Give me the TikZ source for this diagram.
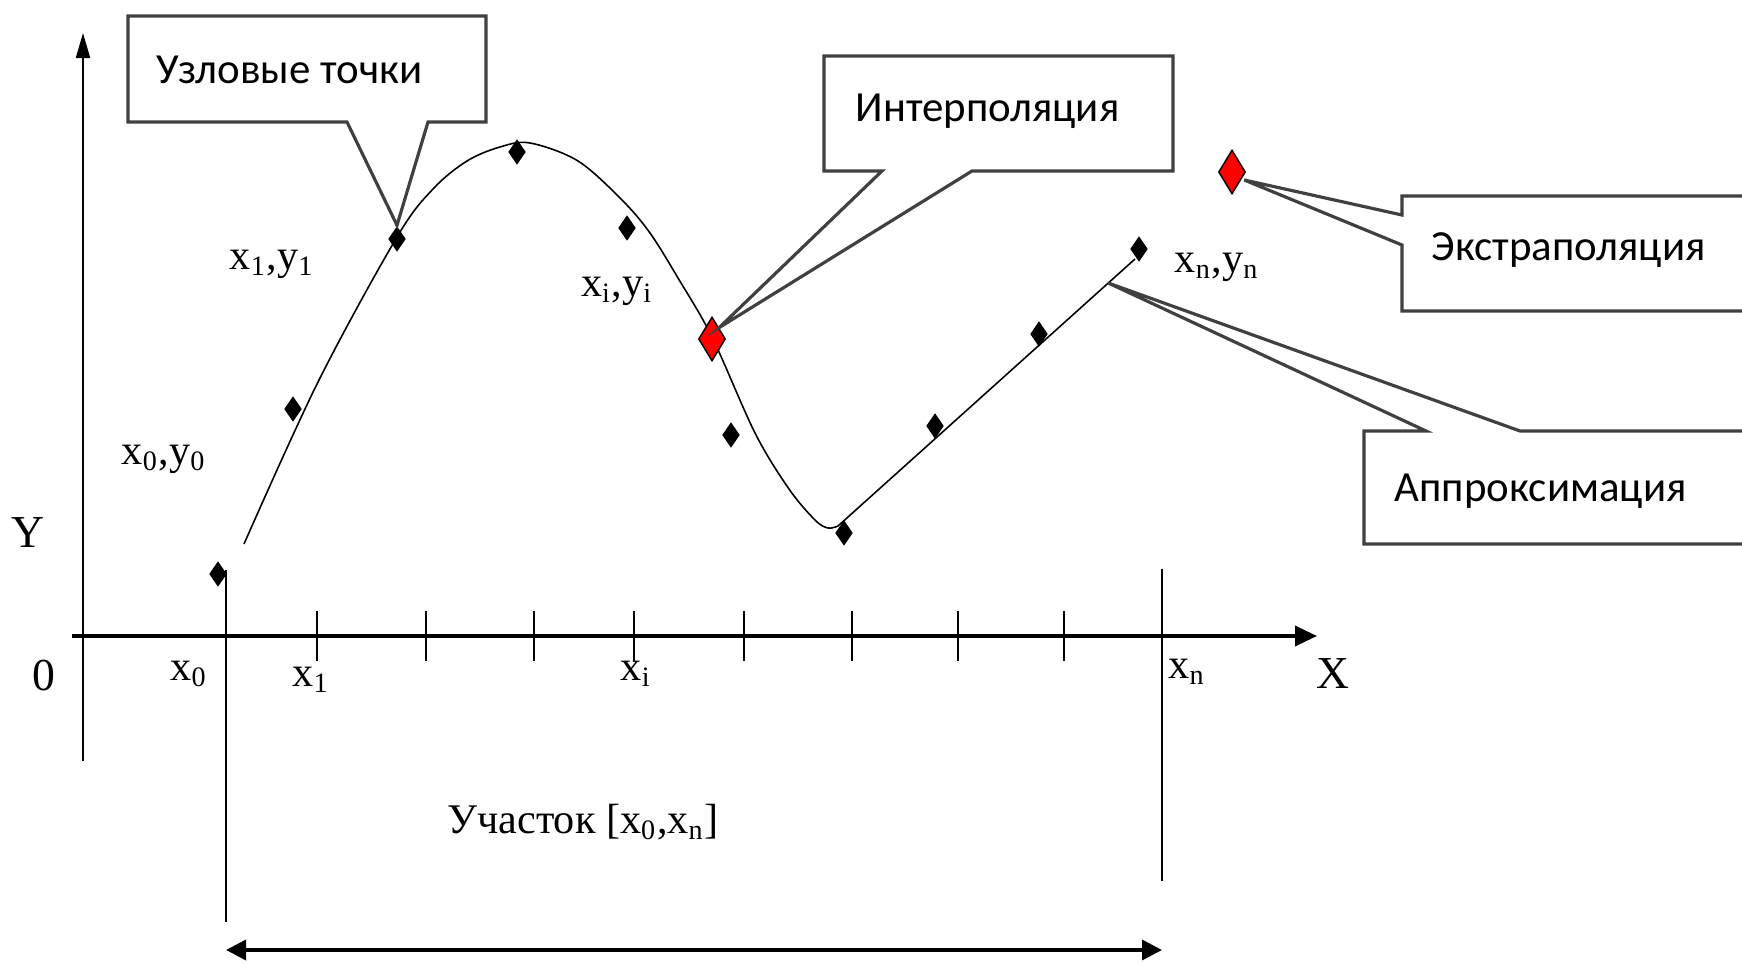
\documentclass[tikz,border=0pt]{standalone}
\usepackage{fontspec}
\setmainfont{Liberation Serif}
\newfontfamily\calloutfont{Carlito}
\usetikzlibrary{arrows.meta,shapes.geometric,calc}

\begin{document}
\begin{tikzpicture}[x=0.01cm,y=-0.01cm,
  knot/.style={diamond,fill=black,inner sep=0pt,minimum width=0.18cm,minimum height=0.26cm},
  redknot/.style={diamond,draw=black,fill=red,inner sep=0pt,line width=0.4pt,minimum width=0.27cm,minimum height=0.44cm},
  lbl/.style={font=\fontsize{12}{14}\selectfont,inner sep=0pt},
  callout/.style={draw=black!75,line width=0.9pt},
  boxtext/.style={font=\calloutfont\fontsize{12.2}{15}\selectfont,anchor=west,inner sep=0pt}]
\clip (0,0) rectangle (1742,964);
\fill[white] (0,0) rectangle (1742,964);

% axes and ticks
\draw[line width=0.6pt,-{Triangle[length=0.25cm,width=0.14cm]}] (83,761) -- (83,33);
\draw[line width=1pt,-{Triangle[length=0.22cm,width=0.2cm]}] (72,636) -- (1317,636);
\foreach \t in {317,426,534,634,744,852,958,1064}
  \draw[line width=0.6pt] (\t,611) -- (\t,661);
\draw[line width=0.5pt] (226,570) -- (226,922);
\draw[line width=0.5pt] (1162,569) -- (1162,881);
\coordinate (a0) at (226,950);
\coordinate (an) at (1162,950);
\draw[line width=1pt,{Triangle[length=0.2cm,width=0.2cm]}-{Triangle[length=0.2cm,width=0.2cm]}] (a0) -- (an);

\node[lbl,font=\fontsize{13}{15}\selectfont] (ylab) at (28,533) {Y};
\node[lbl,font=\fontsize{13}{15}\selectfont] (xlab) at (1333,674) {X};
\node[lbl,font=\fontsize{13}{15}\selectfont] (orig) at (44,676) {0};
\node[lbl] (tx0) at (189,674) {x\textsubscript{0}};
\node[lbl] (tx1) at (311,680) {x\textsubscript{1}};
\node[lbl] (txi) at (636,674) {x\textsubscript{i}};
\node[lbl] (txn) at (1187,672) {x\textsubscript{n}};
\node[lbl] (seg) at (583,822) {Участок [x\textsubscript{0},x\textsubscript{n}]};

% knots
\foreach \px/\py [count=\i] in {218/574,293/409,397/239,517/152,627/228,731/435,844/533,935/426,1039/334,1139/249}
  \node[knot] (k\i) at (\px,\py) {};
\node[lbl] (l0) at (164,459) {x\textsubscript{0},y\textsubscript{0}};
\node[lbl] (l1) at (272,264) {x\textsubscript{1},y\textsubscript{1}};
\node[lbl] (li) at (617,291) {x\textsubscript{i},y\textsubscript{i}};
\node[lbl] (ln) at (1217,267) {x\textsubscript{n},y\textsubscript{n}};

% curve
\coordinate (lo) at (838,526);
\coordinate (hi) at (1135,259);
\draw[line width=0.45pt] plot[smooth,tension=0.55] coordinates {(244,544) (318,382) (397,237) (433,189) (467,161) (500,147) (530,143) (578,161) (622,200) (650,233) (678,278) (712,337) (755,433) (789,489) (815,520) (828,528) (838,526)} -- (hi);
\coordinate (aptip) at ($(lo)!0.91!(hi)$);

\node[redknot] (ip) at (712,339) {};
\node[redknot] (ep) at (1232,172) {};

% callouts
\draw[callout] (128,16) -- (486,16) -- (486,122) -- (428,122) -- (k3.north) -- (347,122) -- (128,122) -- cycle;
\node[boxtext] (uzl) at (156,70) {Узловые точки};
\draw[callout] (824,56) -- (1173,56) -- (1173,171) -- (972,171) -- (ip.north east) -- (882,171) -- (824,171) -- cycle;
\node[boxtext] (int) at (855,111) {Интерполяция};
\draw[callout] (1402,196) -- (1760,196) -- (1760,311) -- (1402,311) -- (1402,245) -- ($(ep.east)+(-2,8)$) -- (1402,215) -- cycle;
\node[boxtext] (ext) at (1431,250) {Экстраполяция};
\draw[callout] (1364,431) -- (1426,431) -- (aptip) -- (1520,431) -- (1760,431) -- (1760,544) -- (1364,544) -- cycle;
\node[boxtext] (apr) at (1394,491) {Аппроксимация};
\end{tikzpicture}
\end{document}
